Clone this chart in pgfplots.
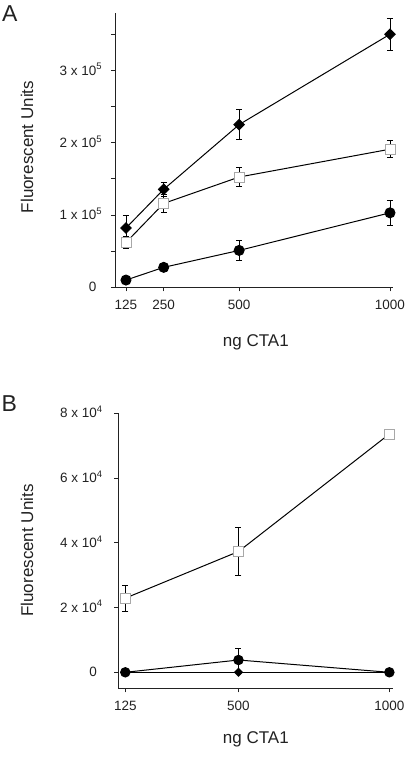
\documentclass[border=0pt]{standalone}
\usepackage{fontspec}
\setmainfont{Liberation Sans}
\usepackage{pgfplots}
\pgfplotsset{compat=1.18}
\definecolor{sqgray}{HTML}{A8A8A8}
\definecolor{axgray}{HTML}{222222}
\pgfplotsset{
  panel/.style={
    scale only axis, anchor=south west, clip=false,
    axis lines*=left, tick align=outside,
    major tick length=4pt, minor tick length=4pt,
    every tick/.style={axgray, line width=0.8pt},
    axis line style={axgray, line width=0.8pt},
    ticklabel style={font=\fontsize{13.5}{15}\selectfont, text=axgray},
    label style={font=\fontsize{17}{19}\selectfont, text=axgray},
    /pgf/number format/assume math mode=true,
    scaled y ticks=false, scaled x ticks=false,
    xticklabel style={yshift=-5pt},
  },
  ln/.style={black, line width=1pt,
    error bars/y dir=both, error bars/y explicit,
    error bars/error bar style={black, line width=0.9pt},
    error bars/error mark options={rotate=90, mark size=3pt, line width=0.9pt, black}},
  sq/.style={mark=square*, mark size=5pt, mark options={fill=white, draw=sqgray, line width=0.8pt}},
  ci/.style={mark=*, mark size=5pt, mark options={fill=black, draw=black}},
  di/.style={mark=square*, mark size=3.7pt, mark options={rotate=45, fill=black, draw=black}},
}
\begin{document}
\begin{tikzpicture}
\path[use as bounding box] (0,0) rectangle (413pt,757pt);
% Panel A
\begin{axis}[panel, at={(115pt,469.7pt)}, width=278pt, height=274pt,
  xmin=88.6, xmax=1010, ymin=0, ymax=379000,
  xtick={125,250,500,1000}, xticklabels={125,250,500,1000},
  ytick={0,100000,200000,300000},
  yticklabels={0,{1 x 10\rlap{\smash{\textsuperscript{5}}}},{2 x 10\rlap{\smash{\textsuperscript{5}}}},{3 x 10\rlap{\smash{\textsuperscript{5}}}}},
  minor ytick={50000,150000,250000,350000},
  yticklabel style={xshift=-11pt},
  xlabel={ng CTA1}, ylabel={Fluorescent Units},
  xlabel style={at={(axis description cs:0.5065,-0.2168)}, anchor=base},
  ylabel style={at={(axis description cs:-0.3165,0.512)}, anchor=center},
]
\addplot[ln, ci] coordinates {(125,10000) +- (0,2000) (250,27600) +- (0,5000) (500,51000) +- (0,14000) (1000,103000) +- (0,17000)};
\addplot[ln, sq] coordinates {(125,62000) +- (0,8000) (250,116000) +- (0,12000) (500,152500) +- (0,13000) (1000,191000) +- (0,12000)};
\addplot[ln, di] coordinates {(125,82000) +- (0,17000) (250,135500) +- (0,10000) (500,225000) +- (0,21000) (1000,350000) +- (0,22000)};
\end{axis}
% Panel B
\begin{axis}[panel, at={(118.3pt,68.7pt)}, width=275pt, height=275pt,
  xmin=101.8, xmax=1013, ymin=-4940, ymax=80000,
  xtick={125,500,1000}, xticklabels={125,500,1000},
  ytick={0,20000,40000,60000,80000},
  yticklabels={0,{2 x 10\rlap{\smash{\textsuperscript{4}}}},{4 x 10\rlap{\smash{\textsuperscript{4}}}},{6 x 10\rlap{\smash{\textsuperscript{4}}}},{8 x 10\rlap{\smash{\textsuperscript{4}}}}},
  yticklabel style={xshift=-13.8pt},
  xlabel={ng CTA1}, ylabel={Fluorescent Units},
  xlabel style={at={(axis description cs:0.5,-0.2025)}, anchor=base},
  ylabel style={at={(axis description cs:-0.332,0.501)}, anchor=center},
]
\addplot[ln, di, mark size=2.75pt] coordinates {(125,0) +- (0,0) (500,0) +- (0,0) (1000,0) +- (0,0)};
\addplot[ln, ci, mark size=4.7pt] coordinates {(125,0) +- (0,0) (500,3800) +- (0,3600) (1000,0) +- (0,0)};
\addplot[ln, sq] coordinates {(125,22900) +- (0,4000) (500,37300) +- (0,7300) (1000,73600) +- (0,0)};
\end{axis}
\node[anchor=base west, inner sep=0pt, font=\fontsize{23}{25}\selectfont, text=axgray] at (2pt,735.3pt) {A};
\node[anchor=base west, inner sep=0pt, font=\fontsize{23}{25}\selectfont, text=axgray] at (1.5pt,345.3pt) {B};
\end{tikzpicture}
\end{document}
